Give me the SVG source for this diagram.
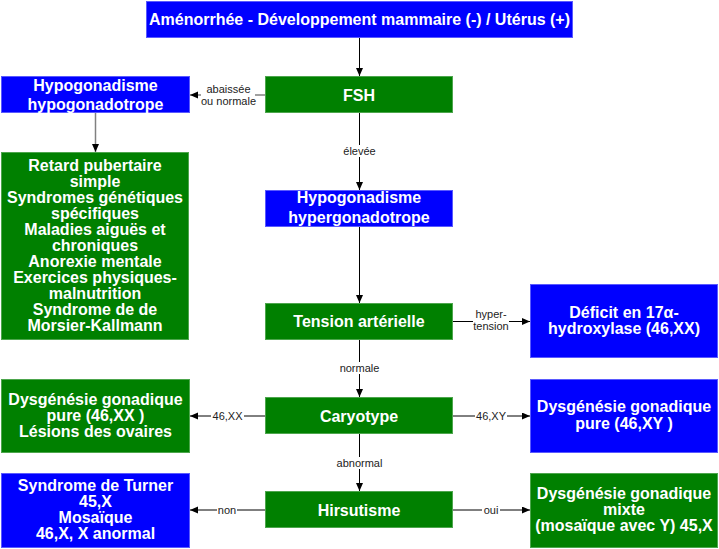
<svg xmlns="http://www.w3.org/2000/svg" width="719" height="549" viewBox="0 0 719 549">
<style>
  .blue { fill: #0000ff; stroke: #5a5aff; stroke-width: 1; }
  .green { fill: #008000; stroke: #4da64d; stroke-width: 1; }
  .t { font-family: "Liberation Sans", Arial, sans-serif; font-size: 16px; font-weight: bold; fill: #ffffff; text-anchor: middle; }
  .c { stroke: #000000; stroke-width: 1; fill: none; marker-end: url(#arr); }
  .cg { stroke: #808080; stroke-width: 1.5; fill: none; marker-end: url(#arr); }
  .l { font-family: "Liberation Sans", Arial, sans-serif; font-size: 11px; fill: #222222; text-anchor: middle; }
  .lb { fill: #ffffff; }
</style>
<defs>
  <marker id="arr" markerWidth="9" markerHeight="8" refX="8" refY="3.5" orient="auto" markerUnits="userSpaceOnUse">
    <path d="M0,0 L8,3.5 L0,7 z" fill="#000000"/>
  </marker>
</defs>
<rect width="719" height="549" fill="#ffffff"/>

<g id="connectors">
  <line class="c" x1="359.5" y1="38" x2="359.5" y2="76"/>
  <line class="cg" x1="265" y1="95" x2="190" y2="95"/>
  <line class="cg" x1="95.5" y1="113" x2="95.5" y2="152"/>
  <line class="c" x1="359.5" y1="113" x2="359.5" y2="190"/>
  <line class="c" x1="359.5" y1="227" x2="359.5" y2="303"/>
  <line class="c" x1="453" y1="321.5" x2="530" y2="321.5"/>
  <line class="c" x1="359.5" y1="340" x2="359.5" y2="397"/>
  <line class="c" x1="265" y1="416" x2="190" y2="416"/>
  <line class="c" x1="453" y1="416" x2="530" y2="416"/>
  <line class="c" x1="359.5" y1="434" x2="359.5" y2="491"/>
  <line class="c" x1="265" y1="510" x2="190" y2="510"/>
  <line class="c" x1="453" y1="510" x2="530" y2="510"/>

  <rect class="lb" x="201" y="83" width="54" height="25"/>
  <text class="l" x="228.5" y="93">abaissée</text>
  <text class="l" x="228.5" y="105">ou normale</text>

  <rect class="lb" x="340" y="145" width="38" height="12"/>
  <text class="l" x="359.5" y="155">élevée</text>

  <rect class="lb" x="473" y="308" width="36" height="25"/>
  <text class="l" x="491" y="318">hyper-</text>
  <text class="l" x="491" y="330">tension</text>

  <rect class="lb" x="338" y="362" width="43" height="12"/>
  <text class="l" x="359.5" y="372">normale</text>

  <rect class="lb" x="211" y="410" width="33" height="12"/>
  <text class="l" x="227.5" y="420">46,XX</text>

  <rect class="lb" x="475" y="410" width="32" height="12"/>
  <text class="l" x="491" y="420">46,XY</text>

  <rect class="lb" x="335" y="457" width="49" height="12"/>
  <text class="l" x="359.5" y="467">abnormal</text>

  <rect class="lb" x="217" y="504" width="20" height="12"/>
  <text class="l" x="227" y="514">non</text>

  <rect class="lb" x="482" y="504" width="18" height="12"/>
  <text class="l" x="491" y="514">oui</text>
</g>

<g id="n-top">
  <rect class="blue" x="146.5" y="1.5" width="426" height="36"/>
  <text class="t" x="359.5" y="25">Aménorrhée - Développement mammaire (-) / Utérus (+)</text>
</g>
<g id="n-fsh">
  <rect class="green" x="265.5" y="76.5" width="187" height="36"/>
  <text class="t" x="359" y="100.5">FSH</text>
</g>
<g id="n-hypo">
  <rect class="blue" x="1.5" y="76.5" width="188" height="36"/>
  <text class="t" x="95.5" y="90.5">Hypogonadisme</text>
  <text class="t" x="95.5" y="109.5">hypogonadotrope</text>
</g>
<g id="n-causes">
  <rect class="green" x="1.5" y="152.5" width="187" height="187"/>
  <text class="t" x="95" y="170.5">Retard pubertaire</text>
  <text class="t" x="95" y="186.5">simple</text>
  <text class="t" x="95" y="202.5">Syndromes génétiques</text>
  <text class="t" x="95" y="218.5">spécifiques</text>
  <text class="t" x="95" y="234.5">Maladies aiguës et</text>
  <text class="t" x="95" y="250.5">chroniques</text>
  <text class="t" x="95" y="266.5">Anorexie mentale</text>
  <text class="t" x="95" y="282.5">Exercices physiques-</text>
  <text class="t" x="95" y="298.5">malnutrition</text>
  <text class="t" x="95" y="314.5">Syndrome de de</text>
  <text class="t" x="95" y="330.5">Morsier-Kallmann</text>
</g>
<g id="n-hyper">
  <rect class="blue" x="265.5" y="190.5" width="187" height="36"/>
  <text class="t" x="359" y="203">Hypogonadisme</text>
  <text class="t" x="359" y="222.5">hypergonadotrope</text>
</g>
<g id="n-tension">
  <rect class="green" x="265.5" y="303.5" width="187" height="36"/>
  <text class="t" x="359" y="327">Tension artérielle</text>
</g>
<g id="n-deficit">
  <rect class="blue" x="530.5" y="284.5" width="187" height="73"/>
  <text class="t" x="624" y="317.5">Déficit en 17α-</text>
  <text class="t" x="624" y="333.5">hydroxylase (46,XX)</text>
</g>
<g id="n-caryotype">
  <rect class="green" x="265.5" y="397.5" width="187" height="36"/>
  <text class="t" x="359" y="421.5">Caryotype</text>
</g>
<g id="n-xx">
  <rect class="green" x="1.5" y="379.5" width="188" height="73"/>
  <text class="t" x="95.5" y="404.5">Dysgénésie gonadique</text>
  <text class="t" x="95.5" y="420.5">pure (46,XX )</text>
  <text class="t" x="95.5" y="436.5">Lésions des ovaires</text>
</g>
<g id="n-xy">
  <rect class="blue" x="530.5" y="379.5" width="187" height="73"/>
  <text class="t" x="624" y="412">Dysgénésie gonadique</text>
  <text class="t" x="624" y="428.5">pure (46,XY )</text>
</g>
<g id="n-hirsutisme">
  <rect class="green" x="265.5" y="491.5" width="187" height="36"/>
  <text class="t" x="359" y="515.5">Hirsutisme</text>
</g>
<g id="n-turner">
  <rect class="blue" x="1.5" y="473.5" width="188" height="74"/>
  <text class="t" x="95.5" y="491">Syndrome de Turner</text>
  <text class="t" x="95.5" y="507">45,X</text>
  <text class="t" x="95.5" y="523">Mosaïque</text>
  <text class="t" x="95.5" y="539">46,X, X anormal</text>
</g>
<g id="n-mixte">
  <rect class="green" x="530.5" y="473.5" width="187" height="74"/>
  <text class="t" x="624" y="498.5">Dysgénésie gonadique</text>
  <text class="t" x="624" y="514.5">mixte</text>
  <text class="t" x="624" y="531">(mosaïque avec Y) 45,X</text>
</g>
</svg>
